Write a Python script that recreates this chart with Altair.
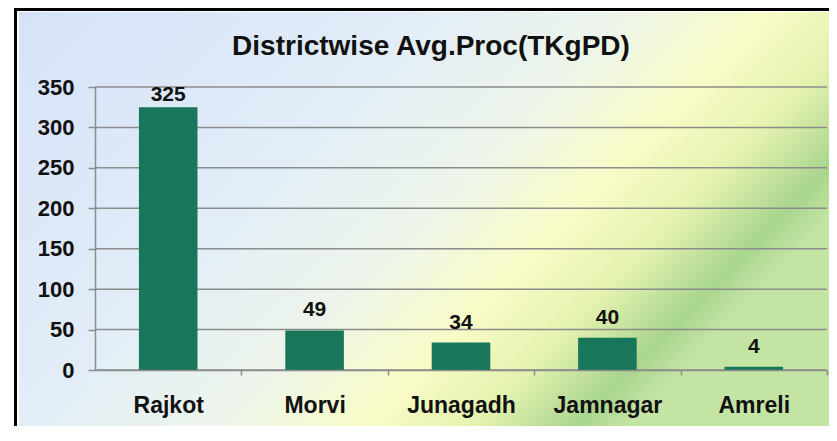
import altair as alt
import pandas as pd

# ---- data ----
DISTRICTS = ["Rajkot", "Morvi", "Junagadh", "Jamnagar", "Amreli"]
VALUES = [325, 49, 34, 40, 4]
Y_TICKS = [0, 50, 100, 150, 200, 250, 300, 350]
TITLE = "Districtwise Avg.Proc(TKgPD)"

# ---- style ----
W, H = 732, 283
PAD = {"left": 87, "top": 79, "right": 2, "bottom": 56}
FONT = "Liberation Sans"
GRID = "#8c8c8c"
BAR = "#18765a"
TXT = "#111111"

df = pd.DataFrame({"district": DISTRICTS, "value": VALUES})
ticks_df = pd.DataFrame({"v": Y_TICKS})
one = pd.DataFrame({"title": [TITLE]})

step = W / len(DISTRICTS)
x_scale = alt.Scale(domain=DISTRICTS, paddingInner=0.6, paddingOuter=0.3)
y_scale = alt.Scale(domain=[0, 350], nice=False)

x_axis = alt.Axis(
    title=None, labelAngle=0, labelFont=FONT, labelFontSize=23, labelFontWeight="bold",
    labelColor=TXT, labelPadding=19, tickSize=5, tickColor=GRID, tickWidth=1.5,
    domainColor=GRID, domainWidth=1.5, tickOffset=step / 2, labelOffset=-step / 2,
    grid=False, zindex=1,
)
y_axis = alt.Axis(
    title=None, values=Y_TICKS, labelFont=FONT, labelFontSize=22, labelFontWeight="bold",
    labelColor=TXT, labelPadding=14, tickSize=7, tickColor=GRID, tickWidth=1.5,
    domainColor=GRID, domainWidth=1.5, grid=False, zindex=1,
)

RIGHT = W + PAD["right"]
BOTTOM = H + PAD["bottom"]

# black frame drawn as two edges (left, top); the rest is cut off in the reference
frame_left = alt.Chart(one).mark_rule(color="black", strokeWidth=3).encode(
    x=alt.value(-79.5), y=alt.value(-79), y2=alt.value(BOTTOM)
)
frame_top = alt.Chart(one).mark_rule(color="black", strokeWidth=3).encode(
    y=alt.value(-77.5), x=alt.value(-81), x2=alt.value(RIGHT)
)

gradient = alt.Gradient(
    gradient="linear",
    stops=[
        alt.GradientStop(offset=0.0, color="#d6e2f8"),
        alt.GradientStop(offset=0.4, color="#e2edf8"),
        alt.GradientStop(offset=0.6, color="#edf5ea"),
        alt.GradientStop(offset=0.74, color="#f9fbc6"),
        alt.GradientStop(offset=0.85, color="#e4f2b0"),
        alt.GradientStop(offset=0.95, color="#a9d58e"),
        alt.GradientStop(offset=1.0, color="#c4e4a4"),
    ],
    x1=0, y1=0, x2=1, y2=0.5,
)
bg = alt.Chart(one).mark_rect(fill=gradient).encode(
    x=alt.value(-76), x2=alt.value(RIGHT), y=alt.value(-75), y2=alt.value(BOTTOM)
)

grid = alt.Chart(ticks_df).mark_rule(color=GRID, strokeWidth=1.5).encode(
    y=alt.Y("v:Q", scale=y_scale, axis=y_axis), x=alt.value(0), x2=alt.value(W)
)

bars = alt.Chart(df).mark_bar(color=BAR).encode(
    x=alt.X("district:N", scale=x_scale, axis=x_axis, sort=DISTRICTS),
    y=alt.Y("value:Q", scale=y_scale, axis=y_axis),
)

label_common = dict(font=FONT, fontSize=21, fontWeight="bold", color=TXT,
                    baseline="alphabetic", align="center")
labels = alt.Chart(df).transform_filter(alt.datum.district != "Rajkot").mark_text(
    dy=-14, **label_common
).encode(
    x=alt.X("district:N", scale=x_scale, axis=x_axis, sort=DISTRICTS),
    y=alt.Y("value:Q", scale=y_scale, axis=y_axis),
    text="value:Q",
)
labels_top = alt.Chart(df).transform_filter(alt.datum.district == "Rajkot").mark_text(
    dy=-6, **label_common
).encode(
    x=alt.X("district:N", scale=x_scale, axis=x_axis, sort=DISTRICTS),
    y=alt.Y("value:Q", scale=y_scale, axis=y_axis),
    text="value:Q",
)

title = alt.Chart(one).mark_text(
    font=FONT, fontSize=28, fontWeight="bold", color=TXT, baseline="alphabetic", align="center"
).encode(x=alt.value(336), y=alt.value(-32), text="title:N")

chart = alt.layer(
    frame_left, frame_top, bg, grid, bars, labels, labels_top, title
).properties(
    width=W, height=H,
    padding=PAD,
    autosize=alt.AutoSizeParams(type="none"),
    background="white",
).configure_view(stroke=None)

chart.save("out.html", embed_options={"renderer": "svg", "actions": False})
